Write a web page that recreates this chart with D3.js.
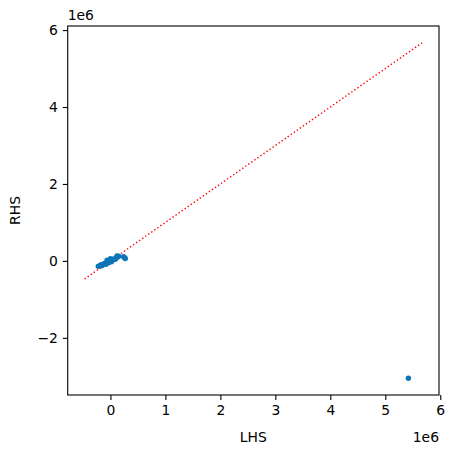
<!DOCTYPE html>
<html>
<head>
<meta charset="utf-8">
<script src="https://cdn.jsdelivr.net/npm/d3@7"></script>
<style>
body { margin: 0; background: #fff; }
text { font-family: "DejaVu Sans", sans-serif; font-size: 13.9px; fill: #000; }
</style>
</head>
<body>
<script>
// LHS / RHS values, units of 1e6
var lhs = [-0.22, -0.19, -0.17, -0.15, -0.12, -0.10, -0.08, -0.06, -0.05, -0.03, 0.0, 0.0, 0.02, 0.04, 0.06, 0.09, 0.11, 0.13, 0.15, 0.12, 0.24, 0.26, 0.27, 5.42];
var rhs = [-0.14, -0.13, -0.10, -0.12, -0.08, -0.06, -0.09, 0.02, -0.03, -0.05, 0.01, 0.06, -0.02, 0.03, 0.05, 0.04, 0.08, 0.10, 0.12, 0.13, 0.11, 0.08, 0.06, -3.05];
// y = x reference line
var refLine = [-0.47, 5.67];
var xTicks = [0, 1, 2, 3, 4, 5, 6];
var yTicks = [-2, 0, 2, 4, 6];

var W = 453, H = 452;
var mLeft = 67.7, mRight = 439, mTop = 26, mBottom = 395;

var svg = d3.select("body").append("svg")
    .attr("width", W).attr("height", H);

// matplotlib style 5% margins
function padded(lo, hi) {
    var d = (hi - lo) * 0.05;
    return [lo - d, hi + d];
}
var xd = padded(d3.min(lhs.concat(refLine)), d3.max(lhs.concat(refLine)));
var yd = padded(d3.min(rhs.concat(refLine)), d3.max(rhs.concat(refLine)));

var x = d3.scaleLinear().domain(xd).range([mLeft, mRight]);
var y = d3.scaleLinear().domain(yd).range([mBottom, mTop]);

var fmt = function(d) { return d < 0 ? "\u2212" + Math.abs(d) : "" + d; };

var gx = svg.append("g").attr("transform", "translate(0," + mBottom + ")")
    .call(d3.axisBottom(x).tickValues(xTicks).tickFormat(fmt).tickSizeOuter(0).tickSize(4.9).tickPadding(4.9));
var gy = svg.append("g").attr("transform", "translate(" + mLeft + ",0)")
    .call(d3.axisLeft(y).tickValues(yTicks).tickFormat(fmt).tickSizeOuter(0).tickSize(4.9).tickPadding(4.9));
[gx, gy].forEach(function(g) {
    g.select(".domain").remove();
    g.selectAll("line").attr("stroke", "#000").attr("stroke-width", 1.1);
    g.selectAll("text").style("font-family", "DejaVu Sans").style("font-size", "13.9px").attr("fill", "#000");
});

// reference line
svg.append("line")
    .attr("x1", x(refLine[0])).attr("y1", y(refLine[0]))
    .attr("x2", x(refLine[1])).attr("y2", y(refLine[1]))
    .attr("stroke", "red").attr("stroke-width", 1.4)
    .attr("stroke-dasharray", "1.4,2.3");

// points
svg.append("g").selectAll("circle")
    .data(lhs)
    .enter().append("circle")
    .attr("cx", function(d) { return x(d); })
    .attr("cy", function(d, i) { return y(rhs[i]); })
    .attr("r", 2.7)
    .attr("fill", "#0f75b8");

// frame
svg.append("rect")
    .attr("x", mLeft).attr("y", mTop)
    .attr("width", mRight - mLeft).attr("height", mBottom - mTop)
    .attr("fill", "none").attr("stroke", "#000").attr("stroke-width", 1.1);

// offset labels
svg.append("text").attr("x", mLeft).attr("y", mTop - 6).text("1e6");
svg.append("text").attr("x", mRight).attr("y", 442).attr("text-anchor", "end").text("1e6");

// axis labels
svg.append("text").attr("x", (mLeft + mRight) / 2).attr("y", 442)
    .attr("text-anchor", "middle").text("LHS");
svg.append("text")
    .attr("transform", "translate(20," + (mTop + mBottom) / 2 + ") rotate(-90)")
    .attr("text-anchor", "middle").text("RHS");
</script>
</body>
</html>
